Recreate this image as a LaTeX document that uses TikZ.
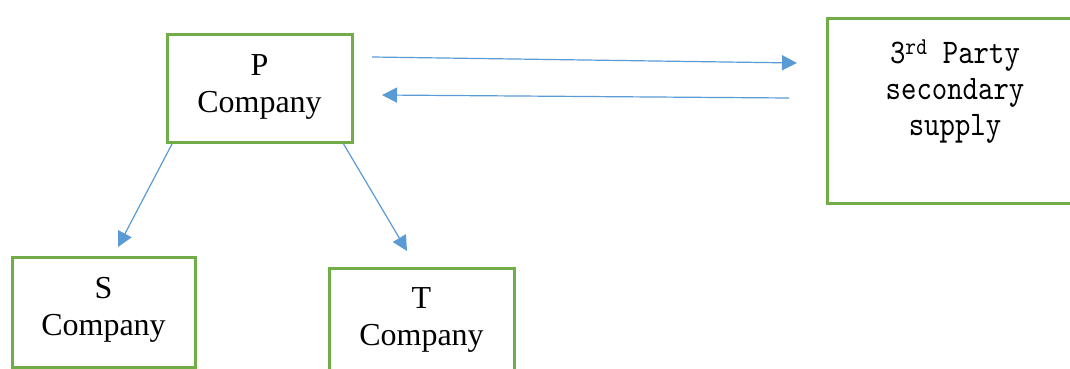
\documentclass[tikz,border=0pt]{standalone}
\usepackage{fontspec}
\setmainfont{Liberation Serif}
\newfontfamily\monofont{lmmono10-regular.otf}[FakeStretch=0.85]
\usetikzlibrary{arrows.meta}
\definecolor{boxgreen}{HTML}{70AD47}
\definecolor{arrowblue}{HTML}{5B9BD5}
\tikzset{
  boxnode/.style={draw=boxgreen, line width=3pt, rectangle, inner sep=0pt},
  lbl/.style={inner sep=0pt, align=center, font=\fontsize{32}{37}\selectfont, anchor=north},
  mlbl/.style={inner sep=0pt, align=center, font=\monofont\fontsize{34.5}{36}\selectfont, anchor=north},
  conn/.style={draw=arrowblue, line width=1.2pt, -{Triangle[length=15pt,width=15pt]}}
}
\begin{document}
\begin{tikzpicture}[x=1pt,y=-1pt]
\useasboundingbox (0,0) rectangle (1070,369);
\clip (0,0) rectangle (1070,369);
\fill[white] (0,0) rectangle (1070,369);
% boxes
\node[boxnode, minimum width=185pt, minimum height=107pt] (P) at (259.5,88.5) {};
\node[boxnode, minimum width=256pt, minimum height=184pt] (R) at (955,111) {};
\node[boxnode, minimum width=183pt, minimum height=110pt] (S) at (103.5,312) {};
\node[boxnode, minimum width=185pt, minimum height=120pt] (T) at (421.5,328) {};
% labels
\node[lbl] (Pt) at (259.5,54) {P\\Company};
\node[lbl] (St) at (103.5,277) {S\\Company};
\node[lbl] (Tt) at (421.5,287) {T\\Company};
\node[mlbl] (Rt) at (955,40) {3\textsuperscript{rd} Party\\secondary\\supply};
% connector end points
\coordinate (a1) at (372,57);
\coordinate (b1) at (797,63);
\coordinate (a2) at (789,98);
\coordinate (b2) at (382,95);
\coordinate (a3) at (172,144);
\coordinate (b3) at (118,247);
\coordinate (a4) at (343,143);
\coordinate (b4) at (407,251);
\draw[conn] (a1) -- (b1);
\draw[conn] (a2) -- (b2);
\draw[conn] (a3) -- (b3);
\draw[conn] (a4) -- (b4);
\end{tikzpicture}
\end{document}
